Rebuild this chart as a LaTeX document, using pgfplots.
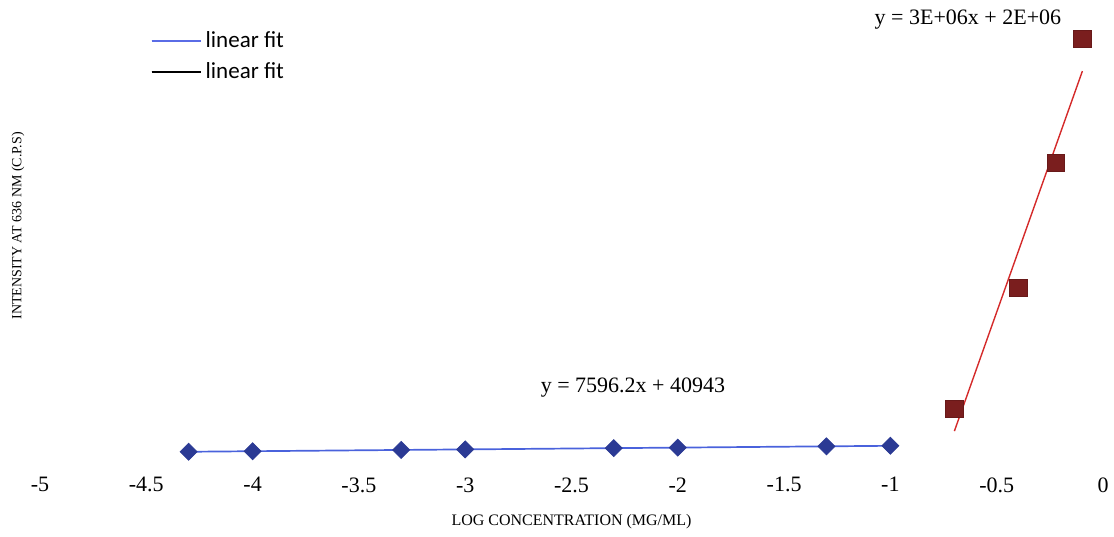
\documentclass[border=0pt]{standalone}
\usepackage{fontspec}
\setmainfont{Liberation Serif}
\newfontfamily\legendfont{Carlito}
\usepackage{pgfplots}
\usepackage{pgfplotstable}
\pgfplotsset{compat=1.18}

\definecolor{lowmark}{HTML}{2B3A94}
\definecolor{lowfit}{HTML}{4A62DC}
\definecolor{legblue}{HTML}{5A6CE6}
\definecolor{highmark}{HTML}{7A1E1E}
\definecolor{highfit}{HTML}{D42A2A}

% low concentration range (log10 of mg/mL) and intensity at 636 nm
\pgfplotstableread{
x         y
-4.30103  8272
-4.00000  10558
-3.30103  15868
-3.00000  18154
-2.30103  23464
-2.00000  25751
-1.30103  31060
-1.00000  33347
}\lowconc

% high concentration range
\pgfplotstableread{
x         y
-0.69897  187700
-0.39794  695900
-0.22185  1220900
-0.09691  1741700
}\highconc

\begin{document}
\begin{tikzpicture}
\useasboundingbox (-20pt,-32.8pt) rectangle (537pt,235.2pt);
\begin{axis}[
  at={(0,0)}, anchor=south west, scale only axis,
  width=531.5pt, height=229.8pt,
  xmin=-5, xmax=0, ymin=-70000, ymax=1860000,
  axis line style={draw=none},
  xtick={-5,-4.5,-4,-3.5,-3,-2.5,-2,-1.5,-1,-0.5,0},
  xticklabels={-5,-4.5,-4,-3.5,-3,-2.5,-2,-1.5,-1,-0.5,0},
  major tick length=0pt,
  ytick=\empty,
  tick label style={font=\fontsize{11}{13}\selectfont},
  xlabel={LOG CONCENTRATION (MG/ML)},
  xlabel style={font=\fontsize{8}{10}\selectfont, at={(axis description cs:0.5,-0.111)}, anchor=center},
  ylabel={INTENSITY AT 636 NM (C.P.S)},
  ylabel style={font=\fontsize{7}{9}\selectfont, at={(axis description cs:-0.0207,0.532)}, anchor=center},
  clip=false,
  legend style={at={(axis description cs:0.1,0.974)}, anchor=north west,
    draw=none, fill=none, font=\legendfont\fontsize{11.5}{13}\selectfont,
    row sep=2pt, inner sep=2pt},
  legend cell align=left,
  legend image code/.code={%
    \draw[#1] (0pt,0pt) -- (18.5pt,0pt);
    \path (0pt,0pt) -- (24.5pt,0pt);},
]
% fitted lines from least squares on each range
\addplot[lowfit, line width=0.85pt, no marks, forget plot]
  table[x=x, y={create col/linear regression={y=y}}] {\lowconc};
\addplot[highfit, line width=0.7pt, no marks, forget plot]
  table[x=x, y={create col/linear regression={y=y}}] {\highconc};

% measured points
\addplot[only marks, mark=square*, mark size=3pt,
  mark options={rotate=45, fill=lowmark, draw=lowmark}, forget plot]
  table[x=x, y=y] {\lowconc};
\addplot[only marks, mark=square*, mark size=4.4pt,
  mark options={fill=highmark, draw=highmark!85!black}, forget plot]
  table[x=x, y=y] {\highconc};

\addlegendimage{legblue, line width=1pt}
\addlegendentry{linear fit}
\addlegendimage{black, line width=1pt}
\addlegendentry{linear fit}

\node[font=\fontsize{11}{13}\selectfont] at (axis cs:-0.635,1821500) {y = 3E+06x + 2E+06};
\node[font=\fontsize{11}{13}\selectfont] at (axis cs:-2.211,275900) {y = 7596.2x + 40943};
\end{axis}
\end{tikzpicture}
\end{document}
